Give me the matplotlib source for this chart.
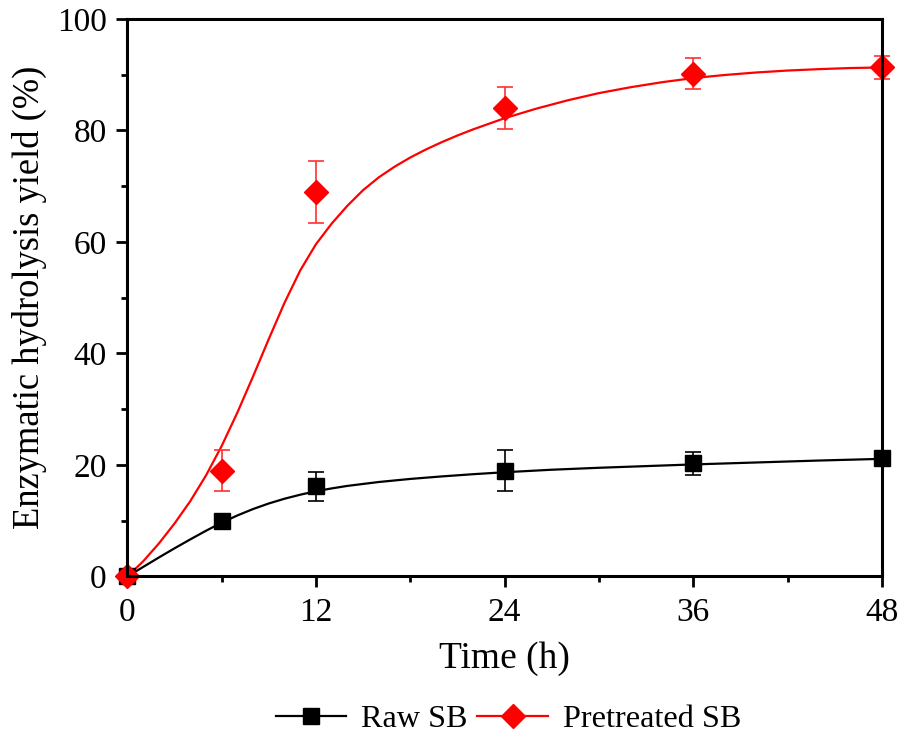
import matplotlib
matplotlib.use("Agg")
import matplotlib.pyplot as plt
from matplotlib.lines import Line2D
from matplotlib.ticker import MultipleLocator

plt.rcParams['font.family'] = ['Liberation Serif', 'DejaVu Serif']

# measured points
time_pts = [0, 6, 12, 24, 36, 48]
raw_yield = [0, 10.0, 16.2, 19.0, 20.3, 21.2]
raw_err = [0, 0, 2.6, 3.6, 2.1, 1.0]
pre_yield = [0, 19.0, 69.0, 84.0, 90.2, 91.3]
pre_err = [0, 3.6, 5.6, 3.8, 2.8, 2.1]

# fitted curves
raw_fit_t = [0, 1, 2, 3, 4, 5, 6, 7, 8, 9, 10, 11, 12, 13, 14, 15, 16, 18, 20,
             22, 24, 27, 30, 33, 36, 40, 44, 48]
raw_fit_y = [0, 1.7, 3.4, 5.05, 6.65, 8.2, 9.65, 10.95, 12.1, 13.1, 13.95, 14.67,
             15.3, 15.8, 16.25, 16.6, 16.95, 17.5, 17.95, 18.35, 18.7, 19.15, 19.5,
             19.8, 20.1, 20.45, 20.8, 21.1]
pre_fit_t = [0, 1, 2, 3, 4, 5, 6, 7, 8, 9, 10, 11, 12, 13, 14, 15, 16, 17, 18, 19,
             20, 21, 22, 23, 24, 26, 28, 30, 32, 34, 36, 38, 40, 42, 44, 46, 48]
pre_fit_y = [0, 2.7, 5.9, 9.5, 13.5, 18.1, 23.4, 29.4, 35.9, 42.6, 49.1, 54.9, 59.6,
             63.3, 66.5, 69.3, 71.6, 73.5, 75.15, 76.6, 77.9, 79.1, 80.2, 81.2, 82.2,
             83.9, 85.4, 86.7, 87.75, 88.65, 89.4, 89.95, 90.4, 90.75, 91.0, 91.2, 91.3]

fig = plt.figure(figsize=(8.98, 7.41), dpi=100)
ax = fig.add_axes([0.1418, 0.222, 0.8402, 0.7524])

ax.plot(raw_fit_t, raw_fit_y, color='black', lw=1.6, zorder=2)
ax.errorbar(time_pts, raw_yield, yerr=raw_err, fmt='s', color='black', ms=11,
            ecolor='black', elinewidth=1.2, capsize=5.5, capthick=1.2, clip_on=False, zorder=3)
ax.plot(pre_fit_t, pre_fit_y, color='#ff0000', lw=1.6, zorder=2)
ax.errorbar(time_pts, pre_yield, yerr=pre_err, fmt='D', color='#ff0000', ms=12,
            ecolor='#ff3030', elinewidth=1.2, capsize=5.5, capthick=1.2, clip_on=False, zorder=3)

ax.set_xlim(0, 48)
ax.set_ylim(0, 100)
ax.xaxis.set_major_locator(MultipleLocator(12))
ax.xaxis.set_minor_locator(MultipleLocator(6))
ax.yaxis.set_major_locator(MultipleLocator(20))
ax.yaxis.set_minor_locator(MultipleLocator(10))
ax.tick_params(which='both', direction='out', width=2, labelsize=24, top=False, right=False)
ax.tick_params(which='major', length=8, pad=7)
ax.tick_params(which='minor', length=4.5)
for s in ax.spines.values():
    s.set_linewidth(2.2)
    s.set_zorder(5)

ax.set_xlabel('Time (h)', fontsize=27, labelpad=10)
ax.set_ylabel('Enzymatic hydrolysis yield (%)', fontsize=26.3, labelpad=7)

handles = [
    Line2D([], [], color='black', lw=1.6, marker='s', ms=11),
    Line2D([], [], color='#ff0000', lw=1.6, marker='D', ms=12),
]
fig.legend(handles, ['Raw SB', 'Pretreated SB'], loc='center', bbox_to_anchor=(0.566, 0.029),
           ncol=2, frameon=False, fontsize=23.2, handlelength=2.2, columnspacing=0.3,
           handletextpad=0.45)

fig.savefig('out.png', dpi=100)
